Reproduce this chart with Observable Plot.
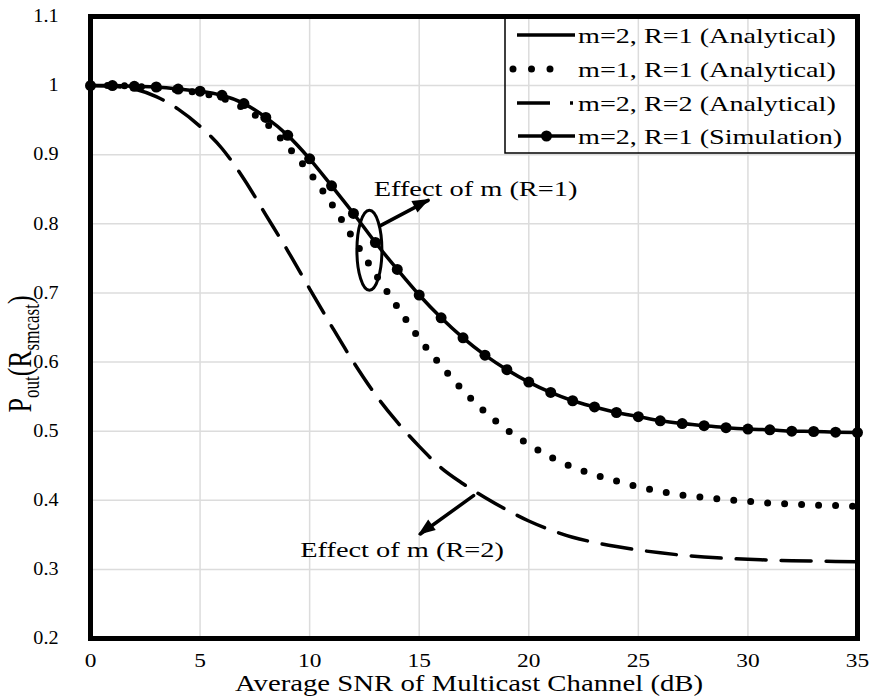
<!DOCTYPE html>
<html>
<head>
<meta charset="utf-8">
<script src="https://cdn.jsdelivr.net/npm/d3@7"></script>
<script src="https://cdn.jsdelivr.net/npm/@observablehq/plot@0.6"></script>
<style>
  body { margin: 0; background: #fff; }
  #chart { position: relative; width: 880px; height: 698px; }
</style>
</head>
<body>
<div id="chart"></div>
<script>
// ---- data ----
const snr = [0,1,2,3,4,5,6,7,8,9,10,11,12,13,14,15,16,17,18,19,20,21,22,23,24,25,26,27,28,29,30,31,32,33,34,35];
const simM2R1 = [1.000,1.000,0.999,0.998,0.995,0.992,0.986,0.974,0.954,0.928,0.894,0.855,0.815,0.773,0.734,0.697,0.664,0.635,0.610,0.589,0.571,0.556,0.544,0.535,0.527,0.521,0.515,0.511,0.508,0.505,0.503,0.502,0.500,0.4995,0.4985,0.498];
const anaM1R1 = [1.000,1.000,0.999,0.997,0.994,0.989,0.982,0.967,0.946,0.912,0.874,0.829,0.778,0.7275,0.680,0.634,0.595,0.559,0.528,0.502,0.481,0.4625,0.448,0.437,0.428,0.4195,0.413,0.4075,0.404,0.401,0.3985,0.396,0.3945,0.393,0.3925,0.391];
const anaM2R2 = [1.000,0.999,0.995,0.984,0.966,0.941,0.909,0.865,0.813,0.761,0.706,0.652,0.600,0.553,0.513,0.478,0.447,0.424,0.404,0.386,0.370,0.357,0.3465,0.339,0.333,0.328,0.324,0.3205,0.318,0.316,0.3145,0.3135,0.3125,0.312,0.3115,0.311];
const xTicks = [0,5,10,15,20,25,30,35];
const yTicks = [0.2,0.3,0.4,0.5,0.6,0.7,0.8,0.9,1.0,1.1];
const legendLabels = ["m=2, R=1 (Analytical)","m=1, R=1 (Analytical)","m=2, R=2 (Analytical)","m=2, R=1 (Simulation)"];
const annotTexts = [
  {x: 12.92, y: 0.851, text: "Effect of m (R=1)"},
  {x: 9.57, y: 0.328, text: "Effect of m (R=2)"}
];
const annotArrows = [
  {x1: 13.21, y1: 0.797, x2: 15.41, y2: 0.834},
  {x1: 17.48, y1: 0.4067, x2: 15.05, y2: 0.3512}
];
const ellipseCenter = {x: 12.75, y: 0.761};
const xTitle = "Average SNR of Multicast Channel (dB)";

// ---- tables ----
const simRows = snr.map((s, i) => ({snr: s, p: simM2R1[i]}));
const m1Rows = snr.map((s, i) => ({snr: s, p: anaM1R1[i]}));
const r2Rows = snr.map((s, i) => ({snr: s, p: anaM2R2[i]}));

const FONT = "'Liberation Serif', 'Times New Roman', serif";

const plot = Plot.plot({
  width: 880,
  height: 698,
  marginLeft: 90,
  marginRight: 23,
  marginTop: 16,
  marginBottom: 60,
  style: {fontFamily: FONT, background: "#fff", color: "#000", overflow: "visible"},
  x: {domain: [0, 35]},
  y: {domain: [0.2, 1.1]},
  marks: [
    Plot.gridX(xTicks, {stroke: "#dcdcdc", strokeOpacity: 1, strokeWidth: 1.5}),
    Plot.gridY(yTicks, {stroke: "#dcdcdc", strokeOpacity: 1, strokeWidth: 1.5}),
    Plot.axisX(xTicks, {tickSize: 0, tickPadding: 16, fontSize: 18, label: null, tickFormat: d => String(d)}),
    Plot.axisY(yTicks, {tickSize: 0, tickPadding: 32, fontSize: 18, label: null, tickFormat: d => String(+d.toFixed(1))}),
    Plot.line(r2Rows, {x: "snr", y: "p", stroke: "black", strokeWidth: 3.5, strokeDasharray: "30,15", curve: "monotone-x"}),
    Plot.line(m1Rows, {x: "snr", y: "p", stroke: "black", strokeWidth: 7, strokeDasharray: "0,17", strokeLinecap: "round", curve: "monotone-x"}),
    Plot.line(simRows, {x: "snr", y: "p", stroke: "black", strokeWidth: 3.5, curve: "monotone-x"}),
    Plot.dot(simRows, {x: "snr", y: "p", r: 5.5, fill: "black", stroke: "none"}),
    Plot.frame({stroke: "black", strokeWidth: 5}),
    Plot.arrow(annotArrows, {x1: "x1", y1: "y1", x2: "x2", y2: "y2", stroke: "black", strokeWidth: 3.5, headLength: 0}),
    Plot.text(annotTexts, {x: "x", y: "y", text: "text", textAnchor: "start", fontSize: 22, fill: "black"})
  ]
});

document.getElementById("chart").append(plot);

const svg = d3.select(plot);
const xs = plot.scale("x"), ys = plot.scale("y");

function stretch(el, k) {
  const len = el.getComputedTextLength();
  el.setAttribute("textLength", (len * k).toFixed(1));
  el.setAttribute("lengthAdjust", "spacingAndGlyphs");
}

// stretch tick labels & annotations to match the wide reference lettering
plot.querySelectorAll('g[aria-label="x-axis tick label"] text').forEach(t => stretch(t, 1.3));
plot.querySelectorAll('g[aria-label="y-axis tick label"] text').forEach(t => stretch(t, 1.12));
plot.querySelectorAll('g[aria-label="text"] text').forEach(t => stretch(t, 1.29));

// filled arrow heads at the annotation arrow ends
annotArrows.forEach(a => {
  const x1 = xs.apply(a.x1), y1 = ys.apply(a.y1), x2 = xs.apply(a.x2), y2 = ys.apply(a.y2);
  const ang = Math.atan2(y2 - y1, x2 - x1);
  const L = 15, W = 6.5;
  const bx = x2 - L * Math.cos(ang), by = y2 - L * Math.sin(ang);
  const px = -Math.sin(ang) * W, py = Math.cos(ang) * W;
  svg.append("polygon")
    .attr("points", `${x2 + 2 * Math.cos(ang)},${y2 + 2 * Math.sin(ang)} ${bx + px},${by + py} ${bx - px},${by - py}`)
    .attr("fill", "black");
});

// ellipse around the R=1 curves
svg.append("ellipse")
  .attr("cx", xs.apply(ellipseCenter.x))
  .attr("cy", ys.apply(ellipseCenter.y))
  .attr("rx", 12.5).attr("ry", 40)
  .attr("fill", "none").attr("stroke", "black").attr("stroke-width", 3);

// x title
const xt = svg.append("text")
  .attr("x", 469).attr("y", 691)
  .attr("text-anchor", "middle")
  .attr("font-family", FONT).attr("font-size", 23).attr("fill", "black")
  .text(xTitle);
stretch(xt.node(), 1.25);

// y title: P_out(R_smcast)
const yg = svg.append("g").attr("transform", "translate(31,354) rotate(-90) scale(1,1.3)");
const yt = yg.append("text").attr("text-anchor", "middle")
  .attr("font-family", FONT).attr("font-size", 26).attr("fill", "black");
yt.append("tspan").text("P");
yt.append("tspan").attr("font-size", 17).attr("dy", 6).text("out");
yt.append("tspan").attr("dy", -6).text("(R");
yt.append("tspan").attr("font-size", 17).attr("dy", 6).text("smcast");
yt.append("tspan").attr("dy", -6).text(")");

// legend
const lg = svg.append("g").attr("aria-label", "legend");
lg.append("rect").attr("x", 505).attr("y", 16).attr("width", 352).attr("height", 137)
  .attr("fill", "none").attr("stroke", "black").attr("stroke-width", 1.5);
const rowsY = [35, 69, 103, 136];
// row 1 solid
lg.append("line").attr("x1", 517).attr("x2", 575).attr("y1", rowsY[0]).attr("y2", rowsY[0])
  .attr("stroke", "black").attr("stroke-width", 3.5);
// row 2 dotted
lg.append("line").attr("x1", 513).attr("x2", 551).attr("y1", rowsY[1]).attr("y2", rowsY[1])
  .attr("stroke", "black").attr("stroke-width", 7).attr("stroke-linecap", "round").attr("stroke-dasharray", "0,18.5");
// row 3 dashed
lg.append("line").attr("x1", 517).attr("x2", 573).attr("y1", rowsY[2]).attr("y2", rowsY[2])
  .attr("stroke", "black").attr("stroke-width", 3.5).attr("stroke-dasharray", "33,20");
// row 4 simulation
lg.append("line").attr("x1", 518).attr("x2", 575).attr("y1", rowsY[3]).attr("y2", rowsY[3])
  .attr("stroke", "black").attr("stroke-width", 3.5);
lg.append("circle").attr("cx", 546.5).attr("cy", rowsY[3]).attr("r", 5.5).attr("fill", "black");
legendLabels.forEach((lab, i) => {
  const t = lg.append("text").attr("x", 578).attr("y", rowsY[i]).attr("dy", "0.35em")
    .attr("text-anchor", "start")
    .attr("font-family", FONT).attr("font-size", 22).attr("fill", "black").text(lab);
  stretch(t.node(), 1.28);
});
</script>
</body>
</html>
